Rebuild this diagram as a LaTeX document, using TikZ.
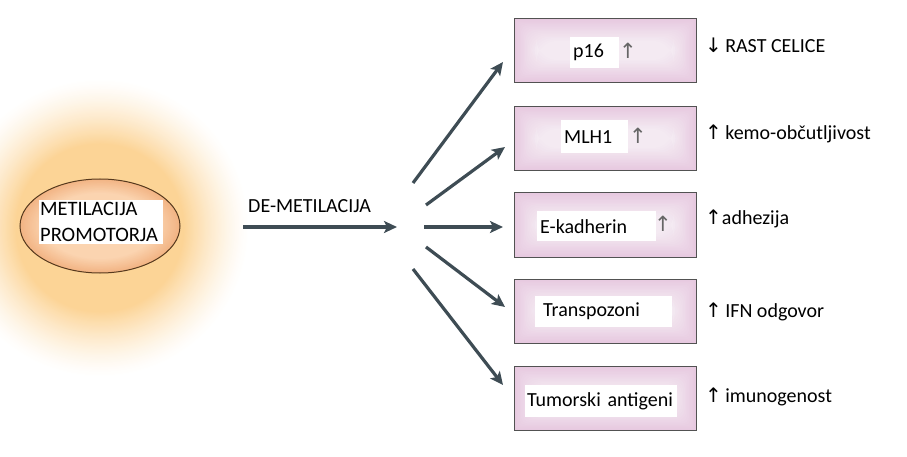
\documentclass[tikz,border=0pt]{standalone}
\usepackage{fontspec}
\setmainfont{Carlito}
\newfontfamily\arrfont{DejaVu Sans}
\usetikzlibrary{shapes.geometric,arrows.meta,calc}
\definecolor{glowc}{RGB}{252,212,150}
\definecolor{boxedge}{RGB}{231,201,224}
\definecolor{boxmid}{RGB}{244,234,242}
\definecolor{ellin}{RGB}{251,212,176}
\definecolor{ellout}{RGB}{242,180,132}
\definecolor{arrc}{RGB}{62,76,84}
\newcommand{\softbox}[2]{%
  \foreach \i in {0,...,16}{%
    \pgfmathsetmacro{\pp}{100*\i/16}%
    \pgfmathsetmacro{\dd}{1.4*\i}%
    \fill[boxmid!\pp!boxedge, rounded corners={1.3*\i}]
      ($(#1,#2)+(-91+\dd,-32+\dd)$) rectangle ($(#1,#2)+(91-\dd,32-\dd)$);
  }%
}
\begin{document}
\begin{tikzpicture}[x=1pt,y=-1pt,
  every node/.style={font=\fontsize{20}{24}\selectfont, inner sep=0pt},
  genebox/.style={draw=black!68, line width=1pt, minimum width=182pt, minimum height=64pt},
  wlab/.style={fill=white, anchor=north west, align=left, inner xsep=3pt, minimum height=31pt},
  uparr/.style={font=\arrfont\fontsize{21}{24}\selectfont, text=black!60},
  effect/.style={anchor=base west},
  fan/.style={draw=arrc, line width=3.2pt, -{Stealth[length=13pt,width=12pt,inset=3pt]}}
]
\useasboundingbox (0,0) rectangle (907,457);
% glow
\foreach \i in {0,...,60}{%
  \pgfmathsetmacro{\pp}{100*(\i/60)^1.4}%
  \pgfmathsetmacro{\rr}{150-1.1*\i}%
  \fill[glowc!\pp!white] (100,228) ellipse ({\rr} and {\rr});
}
% source ellipse gradient
\foreach \i in {0,...,20}{%
  \pgfmathsetmacro{\pp}{100*\i/20}%
  \fill[ellin!\pp!ellout] (100,226) ellipse ({80-1.2*\i} and {47-0.7*\i});
}
\node[ellipse, draw=black!55!brown, line width=1pt, minimum width=160pt, minimum height=94pt] (src) at (100,226) {};
\node[fill=white, anchor=north west, align=left, inner xsep=1pt, inner ysep=2pt, text width=122pt, font=\fontsize{20.5}{26}\selectfont] (srct) at (39,200) {METILACIJA\\PROMOTORJA};
% main arrow
\coordinate (m0) at (243,227);
\coordinate (m1) at (397,227);
\draw[fan] (m0) -- (m1);
\node[anchor=base west] (dem) at (248,212) {DE-METILACIJA};
% boxes
\softbox{605}{50.5}
\softbox{605}{138.5}
\softbox{605}{225}
\softbox{605}{311}
\softbox{605}{398.5}
\node[genebox] (b1) at (605,50.5) {};
\node[genebox] (b2) at (605,138.5) {};
\node[genebox] (b3) at (605,225) {};
\node[genebox] (b4) at (605,311) {};
\node[genebox] (b5) at (605,398.5) {};
% white labels
\node[wlab, text width=43pt] (l1) at (570,37) {p16};
\node[wlab, text width=61pt, minimum height=33pt] (l2) at (561,120) {MLH1};
\node[wlab, text width=113pt, minimum height=30pt] (l3) at (537,211) {E-kadherin};
\node[wlab, text width=121pt, inner xsep=8pt, minimum height=31pt] (l4) at (535,296) {Transpozoni};
\node[wlab, text width=148pt, inner xsep=2pt, minimum height=32pt] (l5) at (525,385) {Tumorski antigeni};
% up arrows in boxes
\node[uparr, anchor=base] (u1) at (628,59) {↑};
\node[uparr, anchor=base] (u2) at (638,144) {↑};
\node[uparr, anchor=base] (u3) at (663,231) {↑};
% fan arrows
\coordinate (s1) at (413,183); \coordinate (e1) at (503,62);
\coordinate (s2) at (426,205); \coordinate (e2) at (505,147);
\coordinate (s3) at (424,227); \coordinate (e3) at (503,227);
\coordinate (s4) at (426,247); \coordinate (e4) at (505,307);
\coordinate (s5) at (413,269); \coordinate (e5) at (503,385);
\draw[fan] (s1) -- (e1);
\draw[fan] (s2) -- (e2);
\draw[fan] (s3) -- (e3);
\draw[fan] (s4) -- (e4);
\draw[fan] (s5) -- (e5);
% effects
\node[effect] (r1) at (705,53) {{\arrfont\fontsize{20}{24}\selectfont ↓}\,RAST CELICE};
\node[effect] (r2) at (705,140) {{\arrfont\fontsize{20}{24}\selectfont ↑}\,kemo-občutljivost};
\node[effect] (r3) at (705,225) {{\arrfont\fontsize{20}{24}\selectfont ↑}adhezija};
\node[effect] (r4) at (705,317) {{\arrfont\fontsize{20}{24}\selectfont ↑}\,IFN odgovor};
\node[effect] (r5) at (705,402) {{\arrfont\fontsize{20}{24}\selectfont ↑}\,imunogenost};
\end{tikzpicture}
\end{document}
